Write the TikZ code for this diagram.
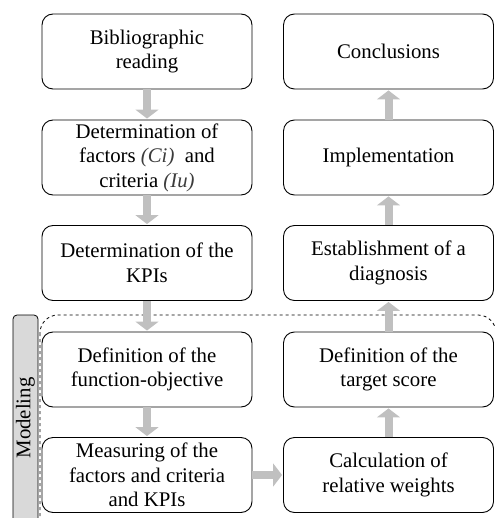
\documentclass[tikz,border=0pt]{standalone}
\usepackage{fontspec}
\setmainfont{Liberation Serif}
\usetikzlibrary{arrows.meta}
\definecolor{arrowgray}{RGB}{192,192,192}
\definecolor{tabgray}{RGB}{217,217,217}
\definecolor{italgray}{RGB}{60,60,60}
\tikzset{
  stepbox/.style={draw=black, line width=0.9pt, rounded corners=11pt,
    minimum width=210pt, minimum height=75pt, inner sep=0pt,
    align=center, font=\fontsize{20.8}{24.5}\selectfont},
  flow/.style={draw=arrowgray, line width=8pt,
    -{Triangle[width=23pt,length=9pt]}, shorten >=1pt, shorten <=0pt}
}
\begin{document}
\begin{tikzpicture}[x=1pt,y=-1pt]
\useasboundingbox (0,0) rectangle (494,518);

% modelling group: dashed frame and side tab
\draw[dashed, line width=0.8pt, rounded corners=18pt] (40,315) rectangle (496,535);
\draw[line width=0.8pt, fill=tabgray, rounded corners=4pt] (13,535) -- (13,315) -- (38,315) -- (38,535);
\node[rotate=90, font=\fontsize{20.8}{24.5}\selectfont] (tab) at (25.5,418) {Modeling};

% left column
\node[stepbox] (b1) at (147,51.5) {Bibliographic\\reading};
\node[stepbox] (b2) at (147,157.5) {Determination of\\factors {\color{italgray}\itshape (Ci)}\ \ and\\criteria {\color{italgray}\itshape (Iu)}};
\node[stepbox] (b3) at (147,263) {Determination of the\\KPIs};
\node[stepbox] (b4) at (147,369.5) {Definition of the\\function-objective};
\node[stepbox] (b5) at (147,475) {Measuring of the\\factors and criteria\\and KPIs};

% right column
\node[stepbox] (c1) at (388.5,51.5) {Conclusions};
\node[stepbox] (c2) at (388.5,157.5) {Implementation};
\node[stepbox] (c3) at (388.5,263) {Establishment of a\\diagnosis};
\node[stepbox] (c4) at (388.5,369.5) {Definition of the\\target score};
\node[stepbox] (c5) at (388.5,475) {Calculation of\\relative weights};

% connectors
\draw[flow] (b1.south) -- (b2.north);
\draw[flow] (b2.south) -- (b3.north);
\draw[flow] (b3.south) -- (b4.north);
\draw[flow] (b4.south) -- (b5.north);
\draw[flow] (b5.east) -- (c5.west);
\draw[flow] (c5.north) -- (c4.south);
\draw[flow] (c4.north) -- (c3.south);
\draw[flow] (c3.north) -- (c2.south);
\draw[flow] (c2.north) -- (c1.south);
\end{tikzpicture}
\end{document}
